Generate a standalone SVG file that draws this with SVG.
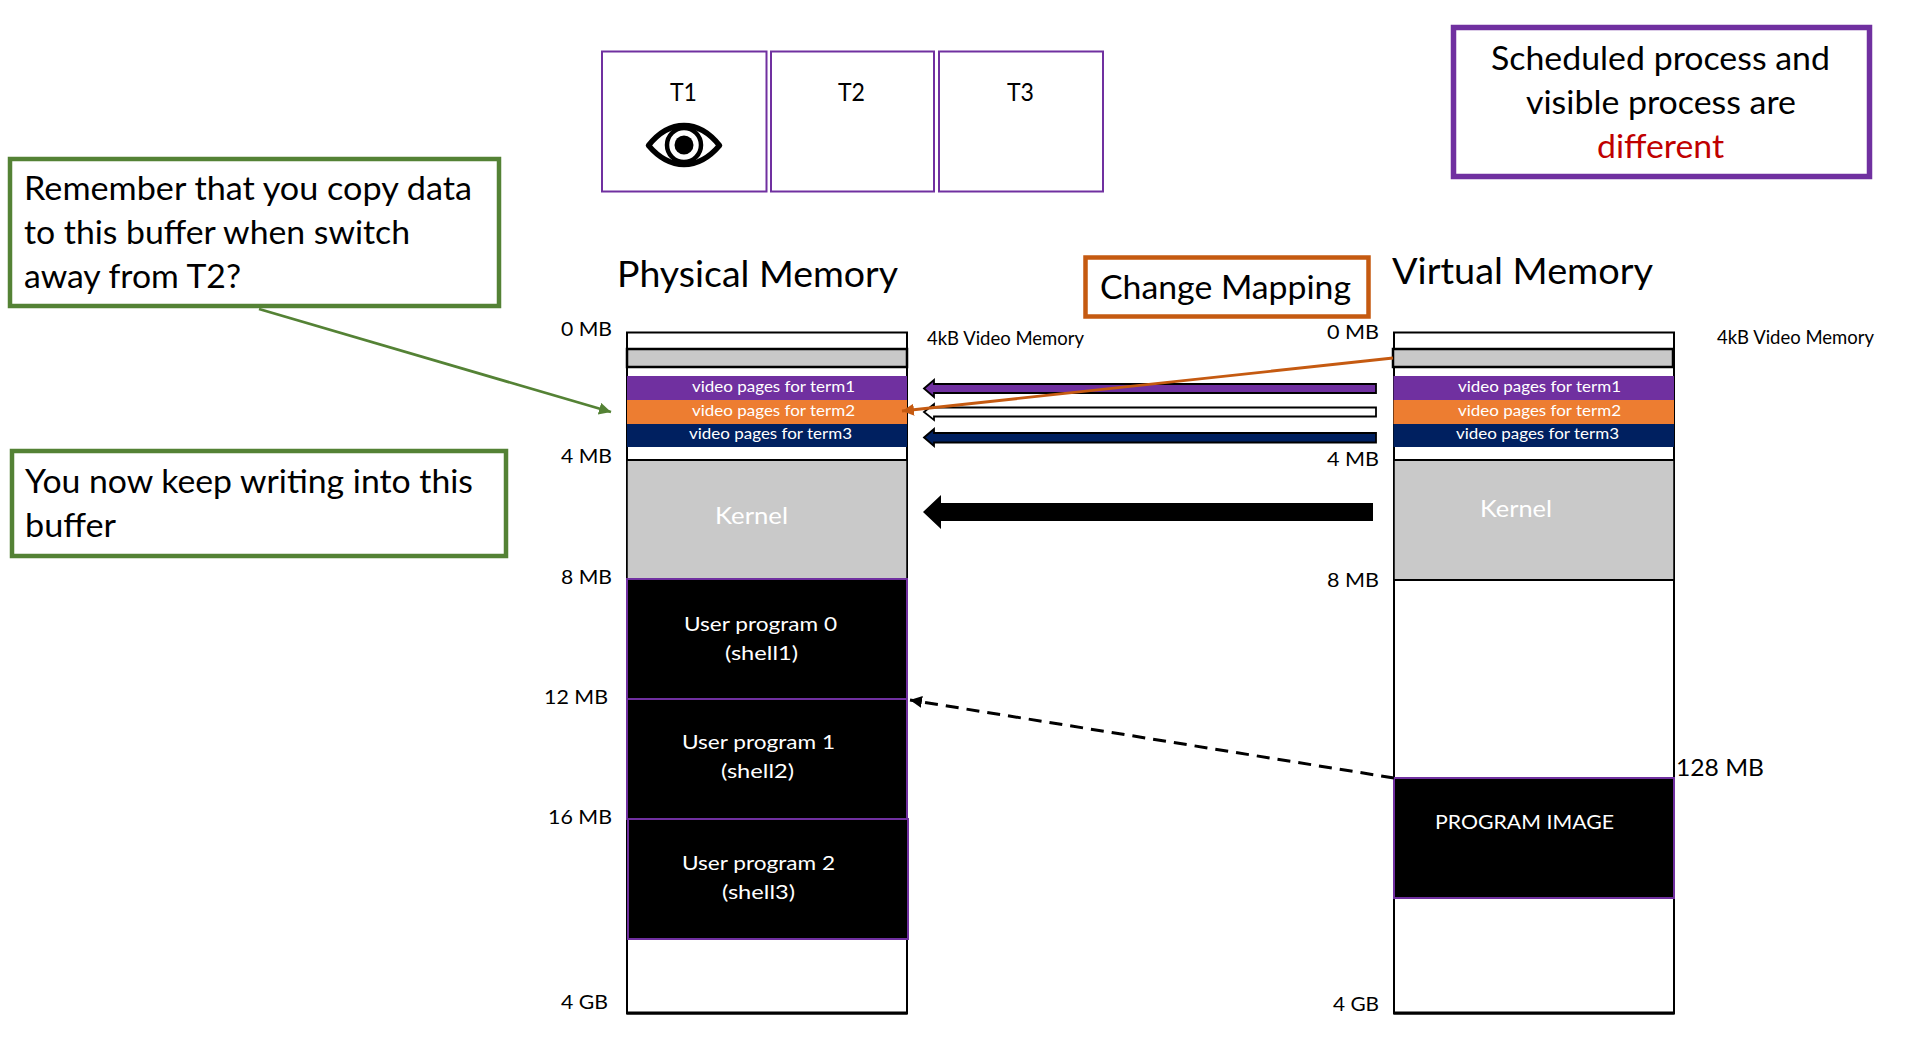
<svg xmlns="http://www.w3.org/2000/svg" width="1907" height="1038" viewBox="0 0 1907 1038">
<style>
text{font-family:"Lato","Open Sans","Liberation Sans",sans-serif;fill:#000}
.w{fill:#fff}
.xl{font-size:36px}.l{font-size:33px}.t{font-size:25px}.m{font-size:20px}.s{font-size:18.5px}.v{font-size:16px}.k{font-size:24px}
.slot{fill:#fff;stroke:#000;stroke-width:2}
.grey{fill:#c9c9c9;stroke:#000;stroke-width:2.5}
.bare{fill:#c9c9c9}
.prog{fill:#000;stroke:#7030a0;stroke-width:2}
.term{fill:#fff;stroke:#7030a0;stroke-width:2}
.call{fill:#fff;stroke:#548235;stroke-width:4.5}
.ba{stroke:#000;stroke-width:1.8;stroke-linejoin:miter}
</style>
<defs>
<marker id="ag" markerUnits="userSpaceOnUse" markerWidth="14" markerHeight="14" refX="12" refY="6" orient="auto"><path d="M0 0L12 6L0 12z" fill="#548235"/></marker>
<marker id="ao" markerUnits="userSpaceOnUse" markerWidth="14" markerHeight="14" refX="12" refY="6" orient="auto"><path d="M0 0L12 6L0 12z" fill="#c55a11"/></marker>
<marker id="ak" markerUnits="userSpaceOnUse" markerWidth="14" markerHeight="14" refX="12" refY="6" orient="auto"><path d="M0 0L12 6L0 12z" fill="#000"/></marker>
</defs>

<g id="terminal-t1"><rect class="term" x="602" y="51.500" width="164.500" height="140"/><text class="t" x="670" y="101" textLength="27" lengthAdjust="spacingAndGlyphs">T1</text>
<path d="M648.500 145.500C660 131 672 125.500 684 125.500C696 125.500 708 131 719.500 145.500C708 159 696 164.500 684 164.500C672 164.500 660 159 648.500 145.500Z" fill="#fff" stroke="#000" stroke-width="5.500" stroke-linejoin="round"/>
<circle cx="684" cy="145" r="17" fill="#fff" stroke="#000" stroke-width="4.500"/><circle cx="684" cy="145" r="9.500" fill="#000"/></g>
<g id="terminal-t2"><rect class="term" x="771" y="51.500" width="163" height="140"/><text class="t" x="838" y="101" textLength="27" lengthAdjust="spacingAndGlyphs">T2</text></g>
<g id="terminal-t3"><rect class="term" x="939" y="51.500" width="164" height="140"/><text class="t" x="1007" y="101" textLength="27" lengthAdjust="spacingAndGlyphs">T3</text></g>

<g id="note-scheduled"><rect x="1453.500" y="27.500" width="416" height="149" fill="#fff" stroke="#7030a0" stroke-width="5.500"/>
<text class="l" x="1491" y="70" textLength="339" lengthAdjust="spacingAndGlyphs">Scheduled process and</text>
<text class="l" x="1526" y="114" textLength="270" lengthAdjust="spacingAndGlyphs">visible process are</text>
<text class="l" x="1597" y="158" textLength="127" lengthAdjust="spacingAndGlyphs" style="fill:#c00000">different</text></g>

<g id="note-remember"><rect class="call" x="10" y="159" width="489" height="147"/>
<text class="l" x="24" y="200" textLength="448" lengthAdjust="spacingAndGlyphs">Remember that you copy data</text>
<text class="l" x="24" y="244" textLength="386" lengthAdjust="spacingAndGlyphs">to this buffer when switch</text>
<text class="l" x="24" y="288" textLength="217" lengthAdjust="spacingAndGlyphs">away from T2?</text></g>
<g id="note-writing"><rect class="call" x="12" y="451" width="494" height="105"/>
<text class="l" x="25" y="493" textLength="448" lengthAdjust="spacingAndGlyphs">You now keep writing into this</text>
<text class="l" x="25" y="537" textLength="91" lengthAdjust="spacingAndGlyphs">buffer</text></g>

<g id="note-change-mapping"><rect x="1085.500" y="257.500" width="283" height="59" fill="#fff" stroke="#c55a11" stroke-width="4.500"/>
<text class="l" x="1100" y="299" textLength="251" lengthAdjust="spacingAndGlyphs">Change Mapping</text></g>

<g id="physical-memory">
<text class="xl" x="617" y="287" textLength="281" lengthAdjust="spacingAndGlyphs">Physical Memory</text>
<rect class="slot" x="627" y="332.500" width="280" height="681"/>
<rect class="grey" x="627" y="349" width="280" height="18"/>
<rect x="627" y="376" width="280" height="24" fill="#7030a0"/>
<rect x="627" y="400" width="280" height="24" fill="#ed7d31"/>
<rect x="627" y="424" width="280" height="23" fill="#002060"/>
<rect class="bare" x="627" y="460" width="280" height="119"/>
<path d="M627 460H907" stroke="#000" stroke-width="2"/>
<path d="M627 460V579M907 460V579" stroke="#000" stroke-width="1.500"/>
<rect class="prog" x="627" y="579" width="280" height="120"/>
<rect class="prog" x="627" y="699" width="280" height="120"/>
<rect class="prog" x="628" y="819" width="280" height="120"/>
<path d="M627 1013H907" stroke="#000" stroke-width="3"/>
<text class="v w" x="692" y="392" textLength="163" lengthAdjust="spacingAndGlyphs">video pages for term1</text>
<text class="v w" x="692" y="416" textLength="163" lengthAdjust="spacingAndGlyphs">video pages for term2</text>
<text class="v w" x="689" y="439" textLength="163" lengthAdjust="spacingAndGlyphs">video pages for term3</text>
<text class="k w" x="715" y="524" textLength="73" lengthAdjust="spacingAndGlyphs">Kernel</text>
<text class="m w" x="684" y="631" textLength="153" lengthAdjust="spacingAndGlyphs">User program 0</text>
<text class="m w" x="725" y="660" textLength="73" lengthAdjust="spacingAndGlyphs">(shell1)</text>
<text class="m w" x="682" y="749" textLength="153" lengthAdjust="spacingAndGlyphs">User program 1</text>
<text class="m w" x="721" y="778" textLength="73" lengthAdjust="spacingAndGlyphs">(shell2)</text>
<text class="m w" x="682" y="870" textLength="153" lengthAdjust="spacingAndGlyphs">User program 2</text>
<text class="m w" x="722" y="899" textLength="73" lengthAdjust="spacingAndGlyphs">(shell3)</text>
<text class="m" x="561" y="336" textLength="51" lengthAdjust="spacingAndGlyphs">0 MB</text>
<text class="m" x="561" y="463" textLength="51" lengthAdjust="spacingAndGlyphs">4 MB</text>
<text class="m" x="561" y="584" textLength="51" lengthAdjust="spacingAndGlyphs">8 MB</text>
<text class="m" x="544" y="704" textLength="64" lengthAdjust="spacingAndGlyphs">12 MB</text>
<text class="m" x="548" y="824" textLength="64" lengthAdjust="spacingAndGlyphs">16 MB</text>
<text class="m" x="561" y="1009" textLength="47" lengthAdjust="spacingAndGlyphs">4 GB</text>
<text class="s" x="927" y="345" textLength="157" lengthAdjust="spacingAndGlyphs">4kB Video Memory</text>
</g>

<g id="virtual-memory">
<text class="xl" x="1392" y="284" textLength="261" lengthAdjust="spacingAndGlyphs">Virtual Memory</text>
<rect class="slot" x="1394" y="332.500" width="280" height="681"/>
<rect class="grey" x="1393" y="349" width="280" height="18"/>
<rect x="1393.500" y="376" width="280.500" height="24" fill="#7030a0"/>
<rect x="1393.500" y="400" width="280.500" height="24" fill="#ed7d31"/>
<rect x="1393.500" y="424" width="280.500" height="23" fill="#002060"/>
<rect class="bare" x="1394" y="460" width="280" height="120"/>
<path d="M1394 460H1674M1394 580H1674" stroke="#000" stroke-width="2"/>
<path d="M1394 460V580M1674 460V580" stroke="#000" stroke-width="1.500"/>
<rect class="prog" x="1394" y="778" width="280" height="120"/>
<path d="M1394 1013H1674" stroke="#000" stroke-width="3"/>
<text class="v w" x="1458" y="392" textLength="163" lengthAdjust="spacingAndGlyphs">video pages for term1</text>
<text class="v w" x="1458" y="416" textLength="163" lengthAdjust="spacingAndGlyphs">video pages for term2</text>
<text class="v w" x="1456" y="439" textLength="163" lengthAdjust="spacingAndGlyphs">video pages for term3</text>
<text class="k w" x="1480" y="517" textLength="72" lengthAdjust="spacingAndGlyphs">Kernel</text>
<text class="m w" x="1435" y="829" textLength="179" lengthAdjust="spacingAndGlyphs">PROGRAM IMAGE</text>
<text class="m" x="1327" y="339" textLength="52" lengthAdjust="spacingAndGlyphs">0 MB</text>
<text class="m" x="1327" y="466" textLength="52" lengthAdjust="spacingAndGlyphs">4 MB</text>
<text class="m" x="1327" y="587" textLength="52" lengthAdjust="spacingAndGlyphs">8 MB</text>
<text class="m" x="1333" y="1011" textLength="46" lengthAdjust="spacingAndGlyphs">4 GB</text>
<text class="k" x="1676" y="776" textLength="88" lengthAdjust="spacingAndGlyphs">128 MB</text>
<text class="s" x="1717" y="344" textLength="157" lengthAdjust="spacingAndGlyphs">4kB Video Memory</text>
</g>

<g id="connectors" fill="none">
<polygon class="ba" points="924,388.500 934,380 934,384 1376,384 1376,393 934,393 934,397" fill="#7030a0"/>
<polygon class="ba" points="924,412 934,404 934,407.500 1376,407.500 1376,416.500 934,416.500 934,420" fill="#fff"/>
<polygon class="ba" points="924,437.500 934,429 934,433 1376,433 1376,442.500 934,442.500 934,446" fill="#002060"/>
<polygon points="923,512 941,495 941,503 1373,503 1373,521 941,521 941,529" fill="#000"/>
<path d="M1393 358L902 411" stroke="#c55a11" stroke-width="2.800" marker-end="url(#ao)"/>
<path d="M259 309L611 412" stroke="#548235" stroke-width="2.800" marker-end="url(#ag)"/>
<path d="M1394 778L910 700" stroke="#000" stroke-width="3" stroke-dasharray="13 8" marker-end="url(#ak)"/>
</g>
</svg>
